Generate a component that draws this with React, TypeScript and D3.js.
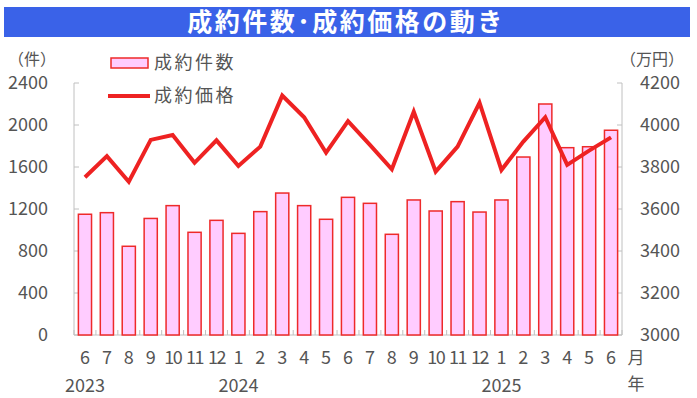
import React from "react";
import * as d3 from "d3";

const months = ["6","7","8","9","10","11","12","1","2","3","4","5","6","7","8","9","10","11","12","1","2","3","4","5","6"];
const years = [{ label: "2023", index: 0 }, { label: "2024", index: 7 }, { label: "2025", index: 19 }];
const counts = [1150,1165,845,1110,1232,978,1092,968,1175,1352,1232,1102,1311,1254,959,1286,1181,1270,1171,1286,1695,2200,1784,1793,1950];
const prices = [3751,3852,3730,3929,3952,3820,3927,3805,3897,4140,4037,3868,4018,3905,3789,4063,3778,3897,4106,3786,3921,4037,3810,3878,3941];
const leftTicks = [0,400,800,1200,1600,2000,2400];
const rightTicks = [3000,3200,3400,3600,3800,4000,4200];

const W = 697, H = 398;
const FONT = "'Noto Sans CJK JP', 'Noto Sans', sans-serif";

export default function App() {
  const left = 74, right = 622, top = 83, bottom = 335;
  const x = d3.scaleBand<number>().domain(d3.range(months.length)).range([left, right]).paddingInner(0.4).paddingOuter(0.2);
  const xb = d3.scaleBand<number>().domain(d3.range(months.length)).range([left, right]);
  const yL = d3.scaleLinear().domain([0, 2400]).range([bottom, top]);
  const yR = d3.scaleLinear().domain([3000, 4200]).range([bottom, top]);
  const line = d3.line<number>().x((_, i) => (xb(i) as number) + xb.bandwidth() / 2).y(d => yR(d));
  const axisColor = "#c0c0c0";
  const textColor = "#555";
  return (
    <svg width={W} height={H} style={{ position: "absolute", left: 0, top: 0 }} fontFamily={FONT}>
      <rect x={0} y={0} width={W} height={H} fill="#fff" />
      <rect x={4} y={7} width={686} height={30} fill="#3a62e8" />
      <text x={346} y={22} dy="0.36em" textAnchor="middle" fill="#fff" fontSize={25} fontWeight="bold" letterSpacing={2.5}>成約件数･成約価格の動き</text>

      {/* axes */}
      <line x1={left} x2={left} y1={top} y2={bottom} stroke={axisColor} />
      <line x1={right} x2={right} y1={top} y2={bottom} stroke={axisColor} />
      <line x1={left} x2={right} y1={bottom} y2={bottom} stroke={axisColor} />
      {leftTicks.map(t => (
        <g key={"l" + t}>
          <line x1={left} x2={left + 5} y1={yL(t)} y2={yL(t)} stroke={axisColor} />
          <text x={48} y={yL(t)} dy="0.35em" textAnchor="end" fontSize={18} fill={textColor}>{t}</text>
        </g>
      ))}
      {rightTicks.map(t => (
        <g key={"r" + t}>
          <line x1={right - 5} x2={right} y1={yR(t)} y2={yR(t)} stroke={axisColor} />
          <text x={640} y={yR(t)} dy="0.35em" textAnchor="start" fontSize={18} fill={textColor}>{t}</text>
        </g>
      ))}
      {d3.range(months.length + 1).map(i => (
        <line key={"bt" + i} x1={left + i * xb.bandwidth()} x2={left + i * xb.bandwidth()} y1={bottom - 5} y2={bottom} stroke={axisColor} />
      ))}
      <text x={32} y={59} dy="0.35em" textAnchor="middle" fontSize={16} fill={textColor}>（件）</text>
      <text x={652} y={59} dy="0.35em" textAnchor="middle" fontSize={16} fill={textColor}>（万円）</text>

      {/* bars */}
      {counts.map((c, i) => (
        <rect key={"b" + i} x={x(i)} y={yL(c)} width={x.bandwidth()} height={bottom - yL(c)} fill="#ffccff" stroke="#ee2a2a" strokeWidth={1.5} />
      ))}
      <path d={line(prices) as string} fill="none" stroke="#ee2222" strokeWidth={4} strokeLinejoin="miter" />

      {/* x labels */}
      {months.map((m, i) => (
        <text key={"m" + i} x={(xb(i) as number) + xb.bandwidth() / 2} y={358} dy="0.35em" textAnchor="middle" fontSize={18} fill={textColor} letterSpacing={m.length > 1 ? -1.5 : 0}>{m}</text>
      ))}
      {years.map(yv => (
        <text key={yv.label} x={(xb(yv.index) as number) + xb.bandwidth() / 2} y={386} dy="0.35em" textAnchor="middle" fontSize={18} fill={textColor}>{yv.label}</text>
      ))}
      <text x={636} y={358} dy="0.35em" textAnchor="middle" fontSize={17} fill={textColor}>月</text>
      <text x={636} y={384} dy="0.35em" textAnchor="middle" fontSize={17} fill={textColor}>年</text>

      {/* legend */}
      <rect x={111} y={58} width={37} height={10} fill="#ffccff" stroke="#ee2a2a" strokeWidth={1.5} />
      <text x={154} y={63} dy="0.35em" fontSize={18} fill={textColor} letterSpacing={2.5}>成約件数</text>
      <line x1={108} x2={150} y1={96} y2={96} stroke="#ee2222" strokeWidth={4} />
      <text x={154} y={96} dy="0.35em" fontSize={18} fill={textColor} letterSpacing={2.5}>成約価格</text>
    </svg>
  );
}
